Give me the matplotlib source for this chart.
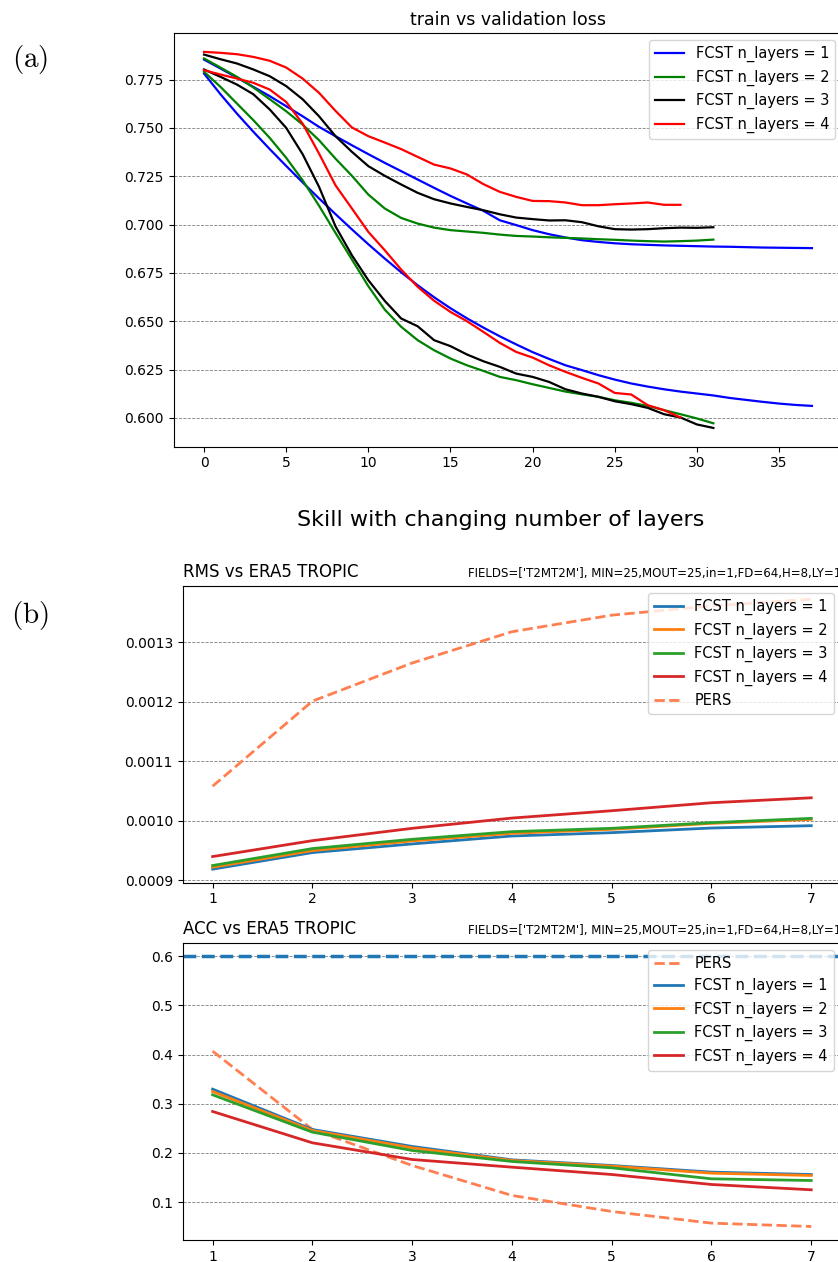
import matplotlib
matplotlib.use("Agg")
import matplotlib.pyplot as plt

plt.rcParams['mathtext.fontset'] = 'cm'

# ---- (a) train vs validation loss, one pair of curves per n_layers ----
val_1 = [0.7853, 0.7807, 0.7760, 0.7712, 0.7664, 0.7612, 0.7560, 0.7505, 0.7457, 0.7410,
         0.7364, 0.7319, 0.7276, 0.7233, 0.7190, 0.7148, 0.7109, 0.7071, 0.7022, 0.6997,
         0.6971, 0.6950, 0.6933, 0.6919, 0.6910, 0.6903, 0.6898, 0.6895, 0.6892, 0.6890,
         0.6888, 0.6886, 0.6885, 0.6883, 0.6881, 0.6880, 0.6879, 0.6878]
train_1 = [0.7781, 0.7674, 0.7574, 0.7480, 0.7390, 0.7303, 0.7218, 0.7135, 0.7054, 0.6975,
           0.6898, 0.6824, 0.6753, 0.6686, 0.6624, 0.6567, 0.6515, 0.6467, 0.6422, 0.6380,
           0.6340, 0.6305, 0.6272, 0.6247, 0.6221, 0.6198, 0.6178, 0.6162, 0.6148, 0.6136,
           0.6126, 0.6116, 0.6103, 0.6093, 0.6083, 0.6074, 0.6067, 0.6062]
val_2 = [0.7859, 0.7812, 0.7764, 0.7709, 0.7648, 0.7586, 0.7517, 0.7436, 0.7341, 0.7252,
         0.7155, 0.7083, 0.7034, 0.7005, 0.6984, 0.6971, 0.6964, 0.6957, 0.6948, 0.6941,
         0.6938, 0.6934, 0.6931, 0.6928, 0.6924, 0.6921, 0.6917, 0.6914, 0.6912, 0.6914,
         0.6917, 0.6922]
train_2 = [0.7790, 0.7712, 0.7626, 0.7540, 0.7448, 0.7345, 0.7229, 0.7097, 0.6957, 0.6819,
           0.6681, 0.6560, 0.6471, 0.6402, 0.6350, 0.6307, 0.6272, 0.6243, 0.6212, 0.6195,
           0.6174, 0.6155, 0.6136, 0.6122, 0.6109, 0.6091, 0.6078, 0.6062, 0.6040, 0.6019,
           0.5997, 0.5972]
val_3 = [0.7879, 0.7855, 0.7833, 0.7802, 0.7767, 0.7716, 0.7648, 0.7560, 0.7457, 0.7376,
         0.7302, 0.7252, 0.7207, 0.7164, 0.7131, 0.7109, 0.7091, 0.7074, 0.7053, 0.7036,
         0.7028, 0.7021, 0.7022, 0.7012, 0.6991, 0.6976, 0.6974, 0.6976, 0.6981, 0.6984,
         0.6983, 0.6986]
train_3 = [0.7802, 0.7764, 0.7724, 0.7674, 0.7595, 0.7500, 0.7364, 0.7195, 0.6991, 0.6841,
           0.6712, 0.6605, 0.6514, 0.6474, 0.6402, 0.6371, 0.6328, 0.6293, 0.6264, 0.6229,
           0.6212, 0.6186, 0.6148, 0.6126, 0.6109, 0.6086, 0.6071, 0.6052, 0.6019, 0.6002,
           0.5966, 0.5948]
val_4 = [0.7893, 0.7888, 0.7881, 0.7867, 0.7847, 0.7812, 0.7755, 0.7681, 0.7588, 0.7502,
         0.7457, 0.7424, 0.7390, 0.7350, 0.7310, 0.7290, 0.7259, 0.7209, 0.7169, 0.7143,
         0.7122, 0.7121, 0.7114, 0.7100, 0.7100, 0.7105, 0.7109, 0.7114, 0.7102, 0.7102]
train_4 = [0.7798, 0.7776, 0.7755, 0.7733, 0.7698, 0.7634, 0.7522, 0.7367, 0.7203, 0.7083,
           0.6962, 0.6867, 0.6767, 0.6678, 0.6606, 0.6548, 0.6500, 0.6445, 0.6388, 0.6341,
           0.6312, 0.6272, 0.6238, 0.6207, 0.6178, 0.6129, 0.6121, 0.6066, 0.6040, 0.6002]

loss_colors = ['blue', 'green', 'black', 'red']
loss_val = [val_1, val_2, val_3, val_4]
loss_train = [train_1, train_2, train_3, train_4]

# ---- (b) skill vs lead time ----
lead = [1, 2, 3, 4, 5, 6, 7]
rms_fcst = [
    [0.0009190, 0.0009468, 0.0009613, 0.0009746, 0.0009802, 0.0009880, 0.0009919],
    [0.0009223, 0.0009501, 0.0009663, 0.0009791, 0.0009858, 0.0009958, 0.0010025],
    [0.0009251, 0.0009535, 0.0009691, 0.0009819, 0.0009875, 0.0009970, 0.0010042],
    [0.0009401, 0.0009668, 0.0009875, 0.0010047, 0.0010170, 0.0010304, 0.0010387],
]
rms_pers = [0.0010582, 0.0012008, 0.0012649, 0.0013173, 0.0013451, 0.0013607, 0.0013719]

acc_fcst = [
    [0.3297, 0.2477, 0.2132, 0.1860, 0.1745, 0.1610, 0.1562],
    [0.3249, 0.2457, 0.2104, 0.1847, 0.1732, 0.1589, 0.1542],
    [0.3182, 0.2423, 0.2050, 0.1827, 0.1698, 0.1474, 0.1440],
    [0.2843, 0.2206, 0.1867, 0.1711, 0.1562, 0.1359, 0.1251],
]
acc_pers = [0.4069, 0.2477, 0.1745, 0.1136, 0.0810, 0.0573, 0.0505]
acc_ref = 0.6

fcst_colors = ['tab:blue', 'tab:orange', 'tab:green', 'tab:red']
n_layers = [1, 2, 3, 4]
info = "FIELDS=['T2MT2M'], MIN=25,MOUT=25,in=1,FD=64,H=8,LY=1"

fig = plt.figure(figsize=(8.38, 12.62), dpi=100)

# (a)
ax1 = fig.add_axes([0.2072, 0.6460, 0.7980, 0.3278])
for i in range(4):
    ax1.plot(range(len(loss_val[i])), loss_val[i], color=loss_colors[i],
             lw=1.6, label='FCST n_layers = %d' % n_layers[i])
    ax1.plot(range(len(loss_train[i])), loss_train[i], color=loss_colors[i], lw=1.6)
ax1.set_title('train vs validation loss', fontsize=12.5)
ax1.set_xticks([0, 5, 10, 15, 20, 25, 30, 35])
ax1.yaxis.grid(True, ls='--', lw=0.6, color='gray')
ax1.legend(loc='upper right', fontsize=10.5)

fig.text(0.598, 1 - 520 / 1262, 'Skill with changing number of layers',
         ha='center', va='center', fontsize=16)

# RMS
ax2 = fig.add_axes([0.2180, 0.3006, 0.7858, 0.2353])
for i in range(4):
    ax2.plot(lead, rms_fcst[i], color=fcst_colors[i], lw=2,
             label='FCST n_layers = %d' % n_layers[i])
ax2.plot(lead, rms_pers, color='coral', ls='--', lw=2, label='PERS')
ax2.set_title('RMS vs ERA5 TROPIC', loc='left', fontsize=12)
ax2.set_title(info, loc='right', fontsize=8.5)
ax2.yaxis.grid(True, ls='--', lw=0.6, color='gray')
ax2.legend(loc='upper right', fontsize=10.5)

# ACC
ax3 = fig.add_axes([0.2180, 0.01743, 0.7858, 0.2356])
ax3.plot(lead, acc_pers, color='coral', ls='--', lw=2, label='PERS')
for i in range(4):
    ax3.plot(lead, acc_fcst[i], color=fcst_colors[i], lw=2,
             label='FCST n_layers = %d' % n_layers[i])
ax3.axhline(acc_ref, color='tab:blue', ls='--', lw=2.5)
ax3.set_title('ACC vs ERA5 TROPIC', loc='left', fontsize=12)
ax3.set_title(info, loc='right', fontsize=8.5)
ax3.yaxis.grid(True, ls='--', lw=0.6, color='gray')
ax3.legend(loc='upper right', fontsize=10.5)

fig.text(0.036, 1 - 60 / 1262, r'$\mathrm{(a)}$', ha='center', va='center', fontsize=21)
fig.text(0.036, 1 - 616 / 1262, r'$\mathrm{(b)}$', ha='center', va='center', fontsize=21)

fig.savefig('out.png', dpi=100)
